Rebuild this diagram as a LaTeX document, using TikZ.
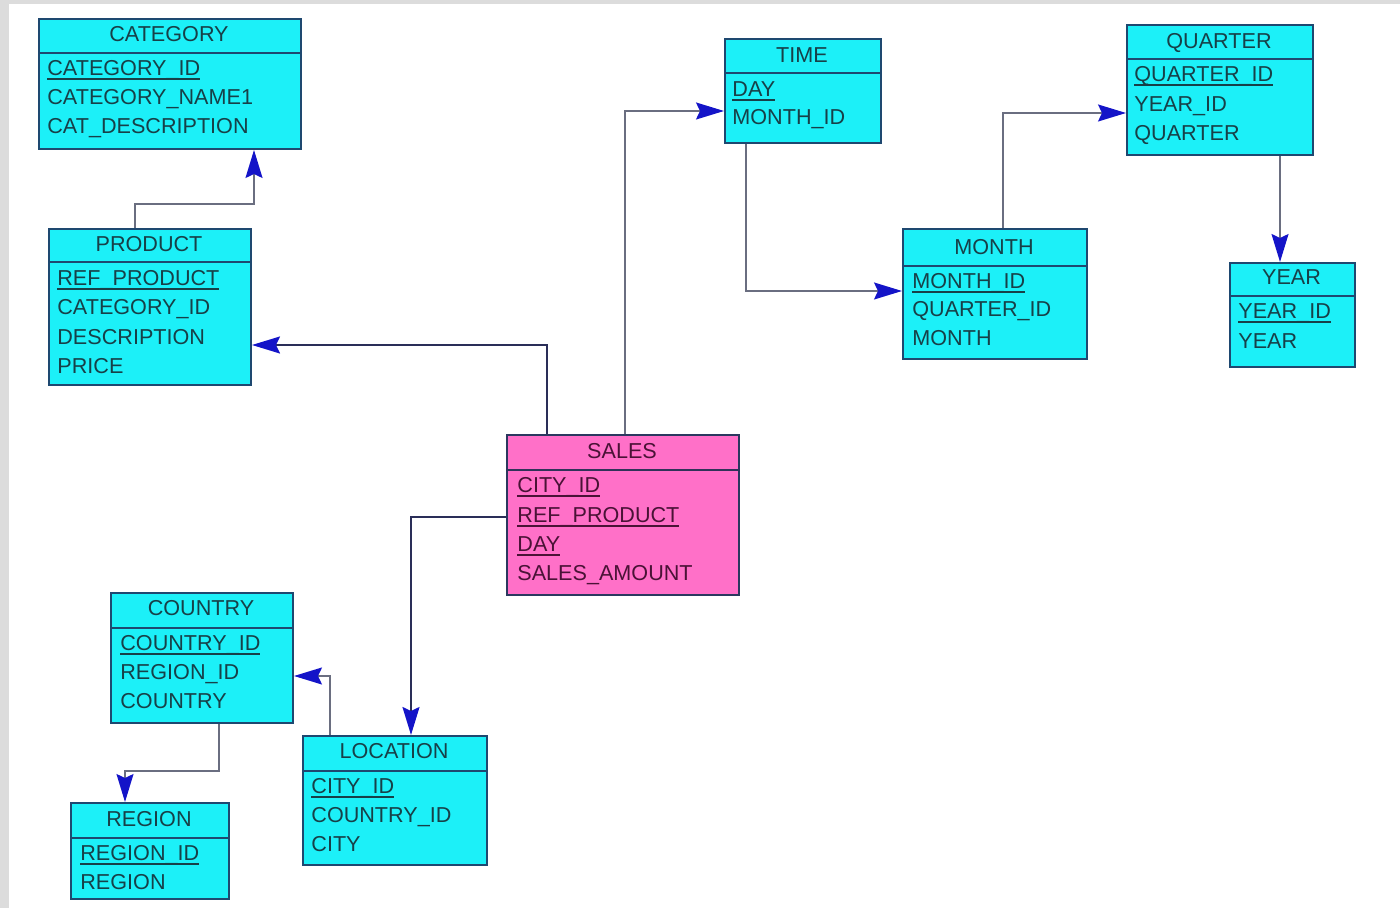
\documentclass[tikz,border=0pt]{standalone}
\usepackage{fontspec}
\setmainfont{Liberation Sans}
\usetikzlibrary{arrows.meta}
\definecolor{cyanfill}{HTML}{1CF0F8}
\definecolor{pinkfill}{HTML}{FF70C8}
\definecolor{boxline}{HTML}{1E4870}
\definecolor{cyantext}{HTML}{174048}
\definecolor{pinktext}{HTML}{4A1236}
\definecolor{conn}{HTML}{6A6E80}
\definecolor{conndark}{HTML}{2A2E58}
\definecolor{arrowblue}{HTML}{1414C8}
\definecolor{bgray}{HTML}{DCDCDC}
\newcommand\keyul[1]{\setbox0\hbox{#1}\rlap{\rule[-1.9pt]{\wd0}{0.6pt}}\box0}
\begin{document}
\begin{tikzpicture}[x=0.5pt,y=-0.5pt,
  tbl/.style={draw=boxline, line width=1pt, fill=cyanfill, anchor=north west, inner sep=0pt},
  salestbl/.style={tbl, fill=pinkfill, draw=boxline!70!pinktext},
  divline/.style={draw=boxline, line width=0.8pt},
  ttl/.style={inner sep=0pt, text=cyantext, font=\fontsize{10.8}{12}\selectfont, text height=7.8pt, text depth=0pt, anchor=center},
  attr/.style={inner sep=0pt, text=cyantext, font=\fontsize{10.8}{12}\selectfont, text height=7.8pt, text depth=0pt, anchor=west},
  sttl/.style={ttl, text=pinktext},
  sattr/.style={attr, text=pinktext},
  tipA/.tip={Stealth[length=14pt,width=8.5pt,inset=2pt,color=arrowblue]},
  link/.style={draw=conn, line width=0.75pt, -tipA},
  darklink/.style={draw=conndark, line width=0.9pt, -tipA}
]
\useasboundingbox (0,0) rectangle (1400,908);
\fill[white] (0,0) rectangle (1400,908);
\fill[bgray] (0,0) rectangle (9,908);
\fill[bgray] (0,0) rectangle (1400,4);

% CATEGORY
\node[tbl, minimum width=131pt, minimum height=65pt] (category) at (38,18) {};
\draw[divline] (category.west |- 0,53) -- (category.east |- 0,53);
\node[ttl] (categoryT) at (169,34) {CATEGORY};
\node[attr] (categoryA1) at (47,68) {\keyul{CATEGORY\_ID}};
\node[attr] (categoryA2) at (47,97) {CATEGORY\_NAME1};
\node[attr] (categoryA3) at (47,126) {CAT\_DESCRIPTION};

% PRODUCT
\node[tbl, minimum width=101pt, minimum height=78pt] (product) at (48,228) {};
\draw[divline] (product.west |- 0,262) -- (product.east |- 0,262);
\node[ttl] (productT) at (149,244) {PRODUCT};
\node[attr] (productA1) at (57,278) {\keyul{REF\_PRODUCT}};
\node[attr] (productA2) at (57,307) {CATEGORY\_ID};
\node[attr] (productA3) at (57,337) {DESCRIPTION};
\node[attr] (productA4) at (57,366) {PRICE};

% TIME
\node[tbl, minimum width=78pt, minimum height=52pt] (time) at (724,38) {};
\draw[divline] (time.west |- 0,73) -- (time.east |- 0,73);
\node[ttl] (timeT) at (802,55) {TIME};
\node[attr] (timeA1) at (732,89) {\keyul{DAY}};
\node[attr] (timeA2) at (732,117) {MONTH\_ID};

% MONTH
\node[tbl, minimum width=92pt, minimum height=65pt] (month) at (902,228) {};
\draw[divline] (month.west |- 0,266) -- (month.east |- 0,266);
\node[ttl] (monthT) at (994,247) {MONTH};
\node[attr] (monthA1) at (912,281) {\keyul{MONTH\_ID}};
\node[attr] (monthA2) at (912,309) {QUARTER\_ID};
\node[attr] (monthA3) at (912,338) {MONTH};

% QUARTER
\node[tbl, minimum width=93pt, minimum height=65pt] (quarter) at (1126,24) {};
\draw[divline] (quarter.west |- 0,59) -- (quarter.east |- 0,59);
\node[ttl] (quarterT) at (1219,41) {QUARTER};
\node[attr] (quarterA1) at (1134,74) {\keyul{QUARTER\_ID}};
\node[attr] (quarterA2) at (1134,104) {YEAR\_ID};
\node[attr] (quarterA3) at (1134,133) {QUARTER};

% YEAR
\node[tbl, minimum width=62.5pt, minimum height=52pt] (year) at (1229,262) {};
\draw[divline] (year.west |- 0,296) -- (year.east |- 0,296);
\node[ttl] (yearT) at (1291.5,277) {YEAR};
\node[attr] (yearA1) at (1238,311) {\keyul{YEAR\_ID}};
\node[attr] (yearA2) at (1238,341) {YEAR};

% SALES
\node[salestbl, minimum width=116pt, minimum height=80pt] (sales) at (506,434) {};
\draw[divline, draw=boxline!60!pinktext] (sales.west |- 0,470) -- (sales.east |- 0,470);
\node[sttl] (salesT) at (622,451) {SALES};
\node[sattr] (salesA1) at (517,485) {\keyul{CITY\_ID}};
\node[sattr] (salesA2) at (517,515) {\keyul{REF\_PRODUCT}};
\node[sattr] (salesA3) at (517,544) {\keyul{DAY}};
\node[sattr] (salesA4) at (517,573) {SALES\_AMOUNT};

% COUNTRY
\node[tbl, minimum width=91pt, minimum height=65pt] (country) at (110,592) {};
\draw[divline] (country.west |- 0,628) -- (country.east |- 0,628);
\node[ttl] (countryT) at (201,608) {COUNTRY};
\node[attr] (countryA1) at (120,643) {\keyul{COUNTRY\_ID}};
\node[attr] (countryA2) at (120,672) {REGION\_ID};
\node[attr] (countryA3) at (120,701) {COUNTRY};

% LOCATION
\node[tbl, minimum width=92pt, minimum height=64.5pt] (location) at (302,735) {};
\draw[divline] (location.west |- 0,771) -- (location.east |- 0,771);
\node[ttl] (locationT) at (394,751) {LOCATION};
\node[attr] (locationA1) at (311,786) {\keyul{CITY\_ID}};
\node[attr] (locationA2) at (311,815) {COUNTRY\_ID};
\node[attr] (locationA3) at (311,844) {CITY};

% REGION
\node[tbl, minimum width=79pt, minimum height=48pt] (region) at (70,802) {};
\draw[divline] (region.west |- 0,838) -- (region.east |- 0,838);
\node[ttl] (regionT) at (149,819) {REGION};
\node[attr] (regionA1) at (80,853) {\keyul{REGION\_ID}};
\node[attr] (regionA2) at (80,882) {REGION};

% Connectors
\draw[link] ([xshift=-7.5pt]product.north) -- ++(0,-24) -| ([xshift=42pt]category.south);
\draw[darklink] ([xshift=-38pt]sales.north) |- ([yshift=-19pt]product.east);
\draw[link] ([xshift=1pt]sales.north) |- ([yshift=-10pt]time.west);
\draw[link] ([xshift=-28.5pt]time.south) |- ([yshift=1.5pt]month.west);
\draw[link] ([xshift=4pt]month.north) |- ([yshift=-11.5pt]quarter.west);
\draw[link] ([xshift=30pt]quarter.south) -- ([xshift=30pt]quarter.south |- year.north);
\draw[darklink] ([yshift=-1pt]sales.west) -| ([xshift=8pt]location.north);
\draw[link] ([xshift=-32.5pt]location.north) |- ([yshift=-9pt]country.east);
\draw[link] ([xshift=8.5pt]country.south) -- ++(0,47) -| ([xshift=-12.5pt]region.north);
\end{tikzpicture}
\end{document}
